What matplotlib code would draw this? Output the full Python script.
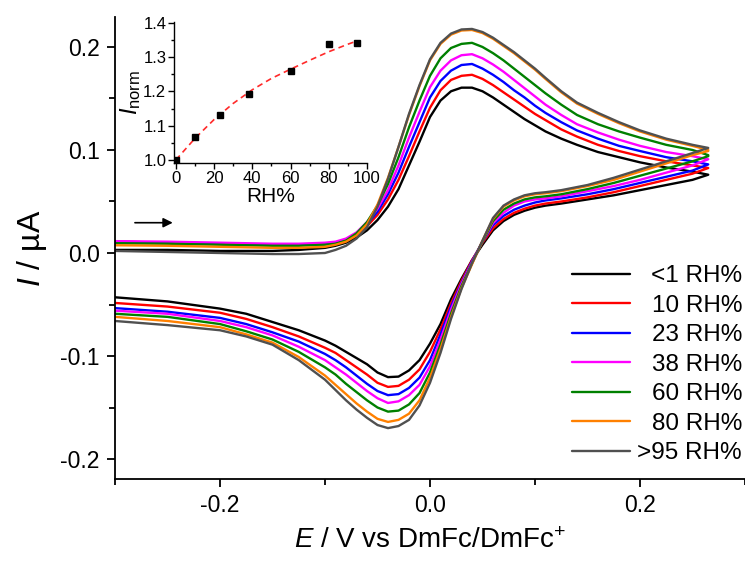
import matplotlib
matplotlib.use("Agg")
import matplotlib.pyplot as plt
from matplotlib.ticker import MultipleLocator, FuncFormatter

plt.rcParams['font.family'] = ['Liberation Sans', 'DejaVu Sans']
plt.rcParams['mathtext.fontset'] = 'custom'
plt.rcParams['mathtext.rm'] = 'Liberation Sans'
plt.rcParams['mathtext.it'] = 'Liberation Sans:italic'
plt.rcParams['mathtext.bf'] = 'Liberation Sans:bold'

# ---------------- data ----------------
labels = ['<1 RH%', '10 RH%', '23 RH%', '38 RH%', '60 RH%', '80 RH%', '>95 RH%']
colors = ['#000000', '#ff0000', '#0000ff', '#ff00ff', '#008000', '#ff8000', '#505050']

E_fwd = [-0.30, -0.25, -0.20, -0.15, -0.125, -0.10, -0.09, -0.08, -0.07, -0.06, -0.05,
         -0.04, -0.03, -0.02, -0.01, 0.00, 0.01, 0.02, 0.03, 0.04, 0.05, 0.06, 0.07, 0.08,
         0.09, 0.10, 0.11, 0.125, 0.14, 0.16, 0.18, 0.20, 0.225, 0.25, 0.265]
E_rev = [0.265, 0.25, 0.225, 0.20, 0.175, 0.15, 0.125, 0.11, 0.10, 0.09, 0.08, 0.07, 0.06,
         0.05, 0.04, 0.03, 0.02, 0.01, 0.00, -0.01, -0.02, -0.03, -0.04, -0.05, -0.06,
         -0.07, -0.08, -0.09, -0.10, -0.125, -0.15, -0.175, -0.20, -0.25, -0.30]

I_fwd_rh1 = [0.003, 0.003, 0.002, 0.002, 0.003, 0.005, 0.007, 0.010, 0.015, 0.022, 0.032,
             0.045, 0.062, 0.085, 0.108, 0.132, 0.148, 0.157, 0.1605, 0.1605, 0.157, 0.151,
             0.144, 0.137, 0.130, 0.124, 0.118, 0.111, 0.105, 0.098, 0.093, 0.088, 0.083,
             0.079, 0.076]
I_fwd_rh10 = [0.011, 0.010, 0.009, 0.008, 0.008, 0.009, 0.010, 0.013, 0.018, 0.026, 0.037,
              0.052, 0.071, 0.094, 0.118, 0.141, 0.158, 0.168, 0.172, 0.173, 0.169, 0.163,
              0.156, 0.149, 0.142, 0.135, 0.129, 0.120, 0.113, 0.105, 0.099, 0.094, 0.089,
              0.085, 0.0825]
I_fwd_rh23 = [0.011, 0.010, 0.009, 0.008, 0.008, 0.009, 0.010, 0.013, 0.019, 0.028, 0.040,
              0.057, 0.078, 0.103, 0.127, 0.151, 0.167, 0.177, 0.1825, 0.1835, 0.179, 0.173,
              0.166, 0.158, 0.151, 0.143, 0.136, 0.127, 0.119, 0.111, 0.104, 0.099, 0.093,
              0.089, 0.086]
I_fwd_rh38 = [0.0115, 0.011, 0.010, 0.009, 0.009, 0.010, 0.011, 0.014, 0.020, 0.030, 0.043,
              0.061, 0.085, 0.112, 0.137, 0.161, 0.177, 0.187, 0.192, 0.193, 0.189, 0.183,
              0.176, 0.168, 0.160, 0.152, 0.144, 0.134, 0.125, 0.117, 0.110, 0.104, 0.098,
              0.094, 0.091]
I_fwd_rh60 = [0.0095, 0.009, 0.008, 0.007, 0.007, 0.008, 0.009, 0.012, 0.019, 0.030, 0.046,
              0.067, 0.093, 0.122, 0.148, 0.172, 0.189, 0.199, 0.203, 0.204, 0.200, 0.194,
              0.187, 0.179, 0.171, 0.163, 0.155, 0.144, 0.134, 0.125, 0.118, 0.112, 0.105,
              0.100, 0.095]
I_fwd_rh80 = [0.0075, 0.007, 0.006, 0.005, 0.005, 0.006, 0.008, 0.011, 0.017, 0.028, 0.047,
              0.073, 0.103, 0.134, 0.162, 0.187, 0.203, 0.212, 0.216, 0.2165, 0.2135, 0.208,
              0.201, 0.194, 0.186, 0.178, 0.169, 0.156, 0.145, 0.135, 0.126, 0.118, 0.110,
              0.104, 0.100]
I_fwd_rh95 = [0.002, 0.001, 0.000, -0.001, -0.001, 0.000, 0.003, 0.007, 0.014, 0.025, 0.045,
              0.072, 0.103, 0.135, 0.163, 0.188, 0.204, 0.213, 0.217, 0.2175, 0.2145, 0.209,
              0.202, 0.195, 0.187, 0.179, 0.170, 0.157, 0.146, 0.136, 0.127, 0.119, 0.111,
              0.105, 0.102]

I_rev_rh1 = [0.076, 0.071, 0.066, 0.061, 0.056, 0.052, 0.048, 0.046, 0.044, 0.041, 0.037,
             0.031, 0.022, 0.008, -0.007, -0.025, -0.045, -0.069, -0.088, -0.104, -0.114,
             -0.120, -0.1205, -0.116, -0.108, -0.102, -0.096, -0.090, -0.085, -0.075,
             -0.067, -0.059, -0.054, -0.047, -0.043]
I_rev_rh10 = [0.0825, 0.077, 0.071, 0.065, 0.059, 0.054, 0.050, 0.048, 0.046, 0.043, 0.039,
              0.033, 0.024, 0.010, -0.007, -0.027, -0.049, -0.074, -0.096, -0.113, -0.123,
              -0.129, -0.130, -0.126, -0.118, -0.111, -0.104, -0.097, -0.092, -0.081,
              -0.072, -0.064, -0.058, -0.052, -0.0485]
I_rev_rh23 = [0.086, 0.080, 0.074, 0.068, 0.062, 0.057, 0.053, 0.051, 0.049, 0.046, 0.042,
              0.036, 0.027, 0.011, -0.008, -0.029, -0.052, -0.079, -0.104, -0.121, -0.131,
              -0.137, -0.138, -0.134, -0.127, -0.119, -0.111, -0.104, -0.098, -0.086,
              -0.077, -0.069, -0.063, -0.057, -0.0535]
I_rev_rh38 = [0.091, 0.085, 0.078, 0.071, 0.065, 0.060, 0.055, 0.053, 0.052, 0.050, 0.046,
              0.039, 0.029, 0.011, -0.009, -0.030, -0.055, -0.084, -0.110, -0.128, -0.138,
              -0.144, -0.1456, -0.141, -0.134, -0.126, -0.118, -0.111, -0.104, -0.091,
              -0.080, -0.072, -0.066, -0.059, -0.056]
I_rev_rh60 = [0.094, 0.089, 0.082, 0.075, 0.068, 0.062, 0.057, 0.055, 0.054, 0.052, 0.048,
              0.042, 0.031, 0.011, -0.010, -0.032, -0.059, -0.089, -0.116, -0.136, -0.147,
              -0.153, -0.154, -0.150, -0.143, -0.135, -0.127, -0.118, -0.111, -0.096,
              -0.084, -0.076, -0.069, -0.062, -0.059]
I_rev_rh80 = [0.099, 0.095, 0.087, 0.079, 0.071, 0.065, 0.060, 0.058, 0.057, 0.055, 0.051,
              0.045, 0.033, 0.012, -0.011, -0.034, -0.062, -0.093, -0.121, -0.143, -0.156,
              -0.162, -0.164, -0.161, -0.154, -0.146, -0.137, -0.128, -0.119, -0.101,
              -0.087, -0.079, -0.072, -0.066, -0.062]
I_rev_rh95 = [0.102, 0.097, 0.089, 0.081, 0.073, 0.066, 0.061, 0.059, 0.058, 0.056, 0.052,
              0.046, 0.034, 0.012, -0.010, -0.035, -0.064, -0.097, -0.126, -0.148, -0.162,
              -0.168, -0.170, -0.167, -0.160, -0.152, -0.143, -0.133, -0.123, -0.104,
              -0.089, -0.081, -0.075, -0.070, -0.066]

fwd_series = [I_fwd_rh1, I_fwd_rh10, I_fwd_rh23, I_fwd_rh38, I_fwd_rh60, I_fwd_rh80, I_fwd_rh95]
rev_series = [I_rev_rh1, I_rev_rh10, I_rev_rh23, I_rev_rh38, I_rev_rh60, I_rev_rh80, I_rev_rh95]

# inset data
rh_points = [0, 10, 23, 38, 60, 80, 95]
inorm_points = [1.000, 1.068, 1.132, 1.192, 1.260, 1.339, 1.342]
rh_fit = [0, 10, 20, 30, 40, 50, 60, 70, 80, 90, 95]
inorm_fit = [1.000, 1.063, 1.118, 1.165, 1.205, 1.238, 1.265, 1.291, 1.316, 1.338, 1.348]

# ---------------- figure ----------------
fig = plt.figure(figsize=(7.45, 5.71), dpi=100)
ax = fig.add_axes([115/745, (571-479)/571, 630/745, 462/571])

for i in range(len(labels)):
    E = E_fwd + E_rev
    I = fwd_series[i] + rev_series[i]
    ax.plot(E, I, color=colors[i], lw=1.7, label=labels[i],
            solid_joinstyle='round', solid_capstyle='round')

ax.set_xlim(-0.30, 0.30)
ax.set_ylim(-0.2194, 0.2291)
ax.xaxis.set_major_locator(MultipleLocator(0.2))
ax.xaxis.set_minor_locator(MultipleLocator(0.1))
ax.yaxis.set_major_locator(MultipleLocator(0.1))
ax.yaxis.set_minor_locator(MultipleLocator(0.05))
for s in ['top', 'right']:
    ax.spines[s].set_visible(False)
for s in ['left', 'bottom']:
    ax.spines[s].set_linewidth(1.3)
ax.tick_params(which='major', direction='out', length=6, width=1.3, labelsize=16.5, pad=5)
ax.tick_params(which='minor', direction='out', length=4, width=1.3)
fmt = FuncFormatter(lambda v, p: f'{v:.1f}' if abs(v) > 1e-9 else '0.0')
ax.xaxis.set_major_formatter(fmt)
ax.yaxis.set_major_formatter(fmt)

ax.set_xlabel(r'$E$ / V vs DmFc/DmFc$^{+}$', fontsize=20, labelpad=8)
ax.set_ylabel(r'$I$ / µA', fontsize=23, labelpad=8)

# scan direction arrow
ax.annotate('', xy=(-0.245, 0.0294), xytext=(-0.281, 0.0294),
            arrowprops=dict(arrowstyle='-|>', color='black', lw=1.2,
                            mutation_scale=14, shrinkA=0, shrinkB=0))

leg = ax.legend(loc='upper left', bbox_to_anchor=(572/745, (571-265)/571),
                bbox_transform=fig.transFigure, frameon=False, fontsize=17.5,
                handlelength=2.39, handletextpad=0.3, labelspacing=0.31,
                borderpad=0, borderaxespad=0)
# right-align legend labels within their column
fig.canvas.draw()
renderer = fig.canvas.get_renderer()
texts = leg.get_texts()
widths = [t.get_window_extent(renderer).width for t in texts]
wmax = max(widths)
for t, w in zip(texts, widths):
    t.set_ha('left')
    t.set_position((wmax - w, 0))

# ---------------- inset ----------------
axi = fig.add_axes([174/745, (571-163.3)/571, 193/745, 141/571])
axi.plot(rh_fit, inorm_fit, color='#ff2a2a', lw=1.2, linestyle=(0, (3.5, 2.5)))
axi.plot(rh_points, inorm_points, linestyle='none', marker='s', color='black', markersize=5)
axi.set_xlim(-1, 100)
axi.set_ylim(0.99, 1.402)
axi.xaxis.set_major_locator(MultipleLocator(20))
axi.xaxis.set_minor_locator(MultipleLocator(10))
axi.yaxis.set_major_locator(MultipleLocator(0.1))
axi.yaxis.set_minor_locator(MultipleLocator(0.05))
for s in ['top', 'right']:
    axi.spines[s].set_visible(False)
for s in ['left', 'bottom']:
    axi.spines[s].set_linewidth(1.0)
axi.tick_params(which='major', direction='out', length=4, width=1.0, labelsize=12, pad=1.5)
axi.tick_params(which='minor', direction='out', length=2.5, width=1.0)
axi.set_xlabel('RH%', fontsize=15, labelpad=1)
axi.set_ylabel(r'$I_{\mathrm{norm}}$', fontsize=17, labelpad=0)

fig.savefig('out.png', dpi=100)
